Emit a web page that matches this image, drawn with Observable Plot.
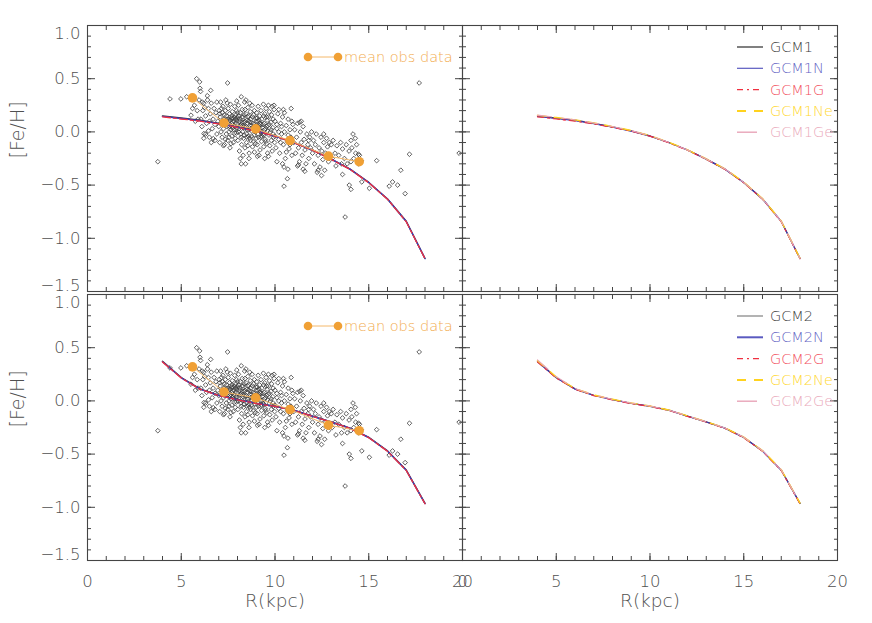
<!DOCTYPE html>
<html><head><meta charset="utf-8">
<script src="https://cdn.jsdelivr.net/npm/d3@7"></script>
<script src="https://cdn.jsdelivr.net/npm/@observablehq/plot@0.6"></script>
<style>
body{margin:0;background:#fff}
#chart{position:relative;width:872px;height:623px;overflow:hidden}
#chart svg{position:absolute;left:0;top:0}
#chart svg text{font-family:"DejaVu Sans",sans-serif;font-weight:200}
</style></head><body><div id="chart"></div>
<script>
// ---------- data ----------
const radii = [4,5,6,7,8,9,10,11,12,13,14,15,16,17,18];

const gcm1   = [0.150,0.130,0.110,0.080,0.047,0.010,-0.038,-0.100,-0.170,-0.256,-0.350,-0.475,-0.630,-0.840,-1.190];
const gcm1N  = [0.146,0.126,0.106,0.078,0.045,0.008,-0.040,-0.100,-0.170,-0.256,-0.350,-0.476,-0.630,-0.842,-1.190];
const gcm1G  = [0.142,0.121,0.101,0.075,0.043,0.007,-0.040,-0.101,-0.172,-0.258,-0.352,-0.478,-0.632,-0.845,-1.192];
const gcm1Ne = [0.155,0.135,0.113,0.085,0.050,0.013,-0.035,-0.097,-0.168,-0.253,-0.347,-0.472,-0.627,-0.838,-1.188];
const gcm1Ge = [0.158,0.136,0.114,0.084,0.050,0.012,-0.036,-0.099,-0.170,-0.255,-0.349,-0.474,-0.629,-0.840,-1.190];

const gcm2   = [0.372,0.220,0.113,0.053,0.013,-0.022,-0.050,-0.087,-0.143,-0.197,-0.256,-0.343,-0.470,-0.650,-0.963];
const gcm2N  = [0.368,0.217,0.111,0.051,0.012,-0.023,-0.051,-0.088,-0.144,-0.198,-0.257,-0.344,-0.471,-0.652,-0.965];
const gcm2G  = [0.366,0.215,0.110,0.050,0.010,-0.025,-0.052,-0.089,-0.145,-0.199,-0.259,-0.346,-0.473,-0.654,-0.967];
const gcm2Ne = [0.378,0.225,0.116,0.056,0.016,-0.020,-0.048,-0.085,-0.141,-0.195,-0.254,-0.340,-0.467,-0.646,-0.960];
const gcm2Ge = [0.385,0.228,0.117,0.056,0.015,-0.020,-0.048,-0.086,-0.142,-0.196,-0.255,-0.341,-0.468,-0.648,-0.962];

const meanR  = [5.60,7.28,8.97,10.80,12.85,14.49];
const meanFe = [0.320,0.084,0.028,-0.081,-0.228,-0.280];

const obsStars = [
 [3.75,-0.28],[4.4,0.31],[4.98,0.31],[5.29,0.33],[5.52,0.157],[5.82,0.50],[5.98,0.47],[6.0,0.41],[6.03,0.38],
 [6.21,-0.016],[6.57,0.39],[6.39,0.34],[6.12,0.28],[6.25,0.23],[6.71,-0.063],[7.47,0.46],[8.2,0.33],[7.96,0.29],
 [8.2,-0.30],[8.43,-0.30],[8.61,-0.25],[9.06,-0.23],[9.65,-0.23],[9.95,0.25],[10.45,0.21],[10.86,0.22],[11.32,0.09],
 [10.48,-0.33],[10.69,-0.35],[10.66,-0.44],[10.48,-0.51],[11.25,-0.31],[11.59,-0.37],[12.48,-0.41],[12.3,-0.36],
 [13.6,-0.40],[13.74,-0.80],[13.96,-0.50],[14.05,-0.54],[14.16,-0.02],[14.28,-0.06],[14.05,-0.08],[14.45,-0.21],
 [14.63,-0.47],[15.03,-0.53],[15.42,-0.27],[16.09,-0.51],[16.27,-0.47],[16.54,-0.50],[16.71,-0.36],[16.94,-0.58],
 [17.17,-0.21],[17.69,0.46],[19.82,-0.20],
 [5.7,0.25],[5.85,0.2],[5.9,0.12],[5.95,0.3],[5.6,0.22],[5.75,0.1],
 [6.05,0.12],[6.1,0.05],[6.15,0.2],[6.2,0.27],[6.3,0.15],[6.3,-0.02],[6.35,0.08],[6.4,0.3],[6.45,0.22],[6.5,0.1],
 [6.5,-0.05],[6.55,0.17],[6.6,0.27],[6.65,0.03],[6.7,0.12],[6.75,0.22],[6.8,-0.08],[6.8,0.07],[6.85,0.18],[6.9,0.28],
 [6.9,-0.02],[6.95,0.1],[6.6,-0.1],[6.2,-0.06],[6.45,0.01],
 [7.0,0.05],[7.02,0.2],[7.05,-0.1],[7.08,0.14],[7.1,0.28],[7.12,0.0],[7.15,0.09],[7.18,-0.05],[7.2,0.18],[7.22,0.24],
 [7.25,0.03],[7.28,0.12],[7.3,-0.12],[7.32,0.07],[7.35,0.2],[7.38,0.3],[7.4,-0.02],[7.42,0.15],[7.45,0.05],[7.48,-0.08],
 [7.5,0.22],[7.52,0.1],[7.55,0.0],[7.58,0.17],[7.6,-0.15],[7.62,0.26],[7.65,0.06],[7.68,0.13],[7.7,-0.04],[7.72,0.19],
 [7.75,0.09],[7.78,-0.1],[7.8,0.02],[7.82,0.14],[7.85,0.24],[7.88,-0.06],[7.9,0.08],[7.92,0.16],[7.95,-0.01],[7.98,0.11],
 [7.15,0.22],[7.35,-0.07],[7.55,0.12],[7.75,0.04],[7.95,0.2],[7.05,0.17],[7.25,-0.13],[7.45,0.27],[7.65,-0.11],[7.85,0.05],
 [8.0,0.13],[8.02,-0.08],[8.05,0.25],[8.08,0.03],[8.1,-0.18],[8.12,0.1],[8.15,0.18],[8.18,-0.02],[8.2,0.07],[8.22,-0.12],
 [8.25,0.21],[8.28,0.0],[8.3,0.14],[8.32,-0.06],[8.35,0.09],[8.38,0.28],[8.4,-0.15],[8.42,0.04],[8.45,0.17],[8.48,-0.1],
 [8.5,0.11],[8.52,0.02],[8.55,0.23],[8.58,-0.04],[8.6,0.15],[8.62,-0.2],[8.65,0.06],[8.68,0.19],[8.7,-0.08],[8.72,0.12],
 [8.75,0.01],[8.78,0.25],[8.8,-0.14],[8.82,0.08],[8.85,0.16],[8.88,-0.03],[8.9,0.2],[8.92,0.05],[8.95,-0.11],[8.98,0.13],
 [8.1,0.05],[8.3,-0.22],[8.5,-0.05],[8.7,0.03],[8.9,-0.19],[8.15,-0.25],[8.45,0.3],[8.65,0.27],[8.35,0.16],[8.55,-0.13],
 [9.0,0.02],[9.02,0.18],[9.05,-0.12],[9.08,0.1],[9.1,0.24],[9.12,-0.05],[9.15,0.06],[9.18,0.15],[9.2,-0.17],[9.22,0.0],
 [9.25,0.2],[9.28,-0.09],[9.3,0.12],[9.32,0.04],[9.35,-0.02],[9.38,0.26],[9.4,-0.14],[9.42,0.08],[9.45,0.17],[9.48,-0.07],
 [9.5,0.03],[9.52,0.22],[9.55,-0.11],[9.58,0.11],[9.6,-0.2],[9.62,0.06],[9.65,0.14],[9.68,-0.03],[9.7,0.19],[9.72,-0.13],
 [9.75,0.0],[9.78,0.09],[9.8,-0.08],[9.82,0.16],[9.85,-0.18],[9.88,0.04],[9.9,0.12],[9.92,-0.05],[9.95,0.21],[9.98,-0.1],
 [9.15,-0.22],[9.45,-0.25],[9.65,0.25],[9.85,0.24],[9.25,0.07],
 [10.0,0.1],[10.05,-0.15],[10.1,0.03],[10.15,0.17],[10.2,-0.07],[10.25,-0.2],[10.3,0.08],[10.35,-0.02],[10.4,0.14],[10.45,-0.12],
 [10.5,0.0],[10.55,-0.25],[10.6,0.06],[10.65,-0.09],[10.7,0.12],[10.75,-0.16],[10.8,0.02],[10.85,-0.05],[10.9,-0.22],[10.95,0.07],
 [10.1,-0.28],[10.3,-0.1],[10.5,0.18],[10.7,-0.03],[10.9,0.1],[10.2,0.21],[10.4,-0.3],[10.6,-0.19],[10.8,-0.12],[10.35,0.05],
 [11.0,-0.1],[11.05,0.02],[11.1,-0.2],[11.15,-0.05],[11.2,0.08],[11.25,-0.15],[11.3,-0.28],[11.35,0.0],[11.4,-0.1],[11.45,-0.22],
 [11.5,0.05],[11.55,-0.07],[11.6,-0.17],[11.65,-0.3],[11.7,-0.02],[11.75,-0.12],[11.8,-0.25],[11.85,-0.05],[11.9,-0.15],[11.95,0.0],
 [11.2,-0.32],[11.5,-0.35],[11.8,-0.08],[11.4,0.1],
 [12.0,-0.2],[12.05,-0.08],[12.1,-0.3],[12.15,-0.12],[12.2,-0.02],[12.3,-0.22],[12.35,-0.15],[12.4,-0.33],[12.45,-0.05],[12.5,-0.18],
 [12.55,-0.26],[12.6,-0.1],[12.65,-0.36],[12.7,-0.2],[12.75,-0.06],[12.8,-0.14],[12.85,-0.28],[12.9,-0.1],[12.95,-0.22],[12.25,-0.38],[12.6,-0.02],
 [13.0,-0.12],[13.05,-0.25],[13.1,-0.08],[13.2,-0.2],[13.25,-0.32],[13.3,-0.13],[13.4,-0.22],[13.5,-0.1],[13.55,-0.3],[13.6,-0.16],
 [13.7,-0.25],[13.8,-0.12],[13.85,-0.3],[13.95,-0.18],
 [14.05,-0.28],[14.1,-0.15],[14.2,-0.25],[14.35,-0.12],[14.45,-0.3],[14.5,-0.22],[14.6,-0.27],[14.3,-0.2],
 // denser core
 [7.6,0.05],[7.65,0.02],[7.7,0.08],[7.75,0.13],[7.8,0.06],[7.85,-0.01],[7.9,0.12],[7.95,0.04],[8.0,0.07],[8.05,0.0],
 [8.1,0.12],[8.15,0.06],[8.2,-0.05],[8.25,0.09],[8.3,0.04],[8.35,-0.03],[8.4,0.1],[8.45,0.05],[8.5,-0.02],[8.55,0.08],
 [8.6,0.02],[8.65,-0.06],[8.7,0.09],[8.75,-0.04],[8.8,0.04],[8.85,-0.09],[8.9,0.07],[8.95,0.0],[9.0,-0.06],[9.05,0.05],
 [9.1,-0.02],[9.15,0.11],[9.2,0.03],[9.25,-0.05],[9.3,0.0],[9.35,0.07],[9.4,-0.03],[9.45,0.02],[9.5,-0.09],[9.55,0.05],
 [7.3,0.16],[7.4,0.1],[7.5,0.06],[7.6,0.11],[7.7,0.15],[8.0,0.18],[8.25,0.14],[8.4,0.21],[8.6,0.1],[8.8,0.14],
 [9.0,0.1],[9.2,0.08],[9.4,0.15],[9.6,0.01],[9.7,0.07],[9.8,0.02],[9.9,-0.02],[10.0,-0.04],[10.1,0.07],[10.2,0.0],
 [7.45,0.12],[7.55,-0.05],[7.8,0.1],[8.05,0.15],[8.3,0.06],[8.55,0.14],[8.75,0.06],[9.05,0.13],[9.3,-0.04],[9.55,0.14]
];

const xMajorTicks = [0,5,10,15,20];
const yMajorTicks = [-1.5,-1.0,-0.5,0.0,0.5,1.0];
const legend1 = ["GCM1","GCM1N","GCM1G","GCM1Ne","GCM1Ge"];
const legend2 = ["GCM2","GCM2N","GCM2G","GCM2Ne","GCM2Ge"];
const obsLabel = "mean obs data";
const xTitle = "R(kpc)";
const yTitle = "[Fe/H]";

// ---------- styles ----------
const colBlack = "#3a3a3a", colBlue = "#3c3cb4", colRed = "#f03040", colYellow = "#ffd21e", colPink = "#e8a4b8";
const colOrange = "#f0a035", colOrangeLine = "#f4b86a";
const axisCol = "#444", textCol = "#505050";
const W = 872, H = 623;
const X = {L:[87,462], R:[462,837]};
const Y = {T:[25,291], B:[294,560]};

const series = (vals) => radii.map((r,i) => ({r, v: vals[i]}));
const meanData = meanR.map((r,i) => ({r, v: meanFe[i]}));
const starData = obsStars.map(([r,v]) => ({r, v}));

function frameAxes(showY, showX) {
  const xMinor = d3.range(0, 21, 1);
  const yMinor = d3.range(-15, 11, 1).map(d => d / 10);
  const tk = {stroke: axisCol, strokeWidth: 1, label: null, tickFormat: () => ""};
  const m = [Plot.frame({stroke: axisCol, strokeWidth: 1.1})];
  for (const anchor of ["top","bottom"]) {
    m.push(Plot.axisX(xMajorTicks, {anchor, tickSize: -7, ...tk}));
    m.push(Plot.axisX(xMinor, {anchor, tickSize: -4, ...tk}));
  }
  for (const anchor of ["left","right"]) {
    m.push(Plot.axisY(yMajorTicks, {anchor, tickSize: -8, ...tk}));
    m.push(Plot.axisY(yMinor, {anchor, tickSize: -4, ...tk}));
  }
  const lab = {anchor: "left", tickSize: 0, tickPadding: 7, label: null, fill: textCol, fontSize: 16.5, tickFormat: d3.format(".1f")};
  if (showY) {
    m.push(Plot.axisY(yMajorTicks.filter(d => d > -1.5 && d < 1), lab));
    m.push(Plot.axisY([1.0], {...lab, dy: 8}));
    m.push(Plot.axisY([-1.5], {...lab, dy: -6}));
    m.push(Plot.text([yTitle], {frameAnchor: "left", dx: -70, rotate: -90, fill: textCol, fontSize: 19}));
  }
  if (showX) {
    m.push(Plot.axisX(xMajorTicks, {anchor: "bottom", tickSize: 0, tickPadding: 15, label: null, fill: textCol, fontSize: 16.5}));
    m.push(Plot.text([xTitle], {frameAnchor: "bottom", dy: 46, fill: textCol, fontSize: 18.5}));
  }
  return m;
}

function panel(xr, yr, showY, showX, marks) {
  return Plot.plot({
    width: W, height: H,
    marginLeft: xr[0], marginRight: W - xr[1], marginTop: yr[0], marginBottom: H - yr[1],
    x: {domain: [0, 20], axis: null},
    y: {domain: [-1.5, 1.0], axis: null},
    style: {background: "transparent", overflow: "visible"},
    marks: [...marks, ...frameAxes(showY, showX)]
  });
}

function obsMarks(models) {
  return [
    Plot.dot(starData, {x: "r", y: "v", symbol: "diamond2", r: 2.1, stroke: "#3a3a3a", strokeWidth: 0.8, fill: "none"}),
    Plot.line(series(models[0]), {x: "r", y: "v", stroke: colBlack, strokeWidth: 1.4}),
    Plot.line(series(models[1]), {x: "r", y: "v", stroke: colBlue, strokeWidth: 1.4}),
    Plot.line(series(models[2]), {x: "r", y: "v", stroke: colRed, strokeWidth: 1.3, strokeDasharray: "8,3,3,3"}),
    Plot.line(meanData, {x: "r", y: "v", stroke: colOrangeLine, strokeWidth: 1}),
    Plot.dot(meanData, {x: "r", y: "v", r: 4.8, fill: colOrange, stroke: "none"})
  ];
}

function modelMarks(models) {
  return [
    Plot.line(series(models[0]), {x: "r", y: "v", stroke: colBlack, strokeWidth: 1.2}),
    Plot.line(series(models[1]), {x: "r", y: "v", stroke: colBlue, strokeWidth: 1.2}),
    Plot.line(series(models[2]), {x: "r", y: "v", stroke: colRed, strokeWidth: 1.2, strokeDasharray: "6,4,2,4"}),
    Plot.line(series(models[3]), {x: "r", y: "v", stroke: colYellow, strokeWidth: 1.4, strokeDasharray: "9,8"}),
    Plot.line(series(models[4]), {x: "r", y: "v", stroke: colPink, strokeWidth: 1.1, strokeDasharray: "14,10"})
  ];
}

const set1 = [gcm1, gcm1N, gcm1G, gcm1Ne, gcm1Ge];
const set2 = [gcm2, gcm2N, gcm2G, gcm2Ne, gcm2Ge];

const chart = document.getElementById("chart");
chart.append(panel(X.L, Y.T, true, false, obsMarks(set1)));
chart.append(panel(X.R, Y.T, false, false, modelMarks(set1)));
chart.append(panel(X.L, Y.B, true, true, obsMarks(set2)));
chart.append(panel(X.R, Y.B, false, true, modelMarks(set2)));

// ---------- legends (overlay) ----------
const svg = d3.select(chart).append("svg").attr("width", W).attr("height", H);
const legStyles = [
  {c: "#808080", w: 2, dash: null, tc: "#404040", len: 26},
  {c: "#5a5ac0", w: 1.2, dash: null, tc: "#6464c4", len: 26},
  {c: colRed, w: 1.4, dash: "6,4,2,4", tc: "#f25060", len: 26},
  {c: colYellow, w: 2, dash: "9,8", tc: "#ffd830", len: 26},
  {c: colPink, w: 1.4, dash: null, tc: "#eaaabb", len: 20}
];
function drawLegend(names, y0, thickBlue) {
  names.forEach((n, i) => {
    const s = legStyles[i], y = y0 + i * 21.3;
    svg.append("line").attr("x1", 737).attr("x2", 737 + s.len).attr("y1", y).attr("y2", y)
      .attr("stroke", s.c).attr("stroke-width", (i === 1 && thickBlue) ? 2 : (i === 0 && thickBlue ? 1.2 : s.w))
      .attr("stroke-dasharray", s.dash);
    svg.append("text").attr("x", 770).attr("y", y + 5).attr("fill", s.tc).attr("font-size", 14.5).text(n);
  });
}
drawLegend(legend1, 47, false);
drawLegend(legend2, 316, true);
function drawObsLegend(y) {
  svg.append("line").attr("x1", 308).attr("x2", 338).attr("y1", y).attr("y2", y).attr("stroke", colOrangeLine).attr("stroke-width", 1);
  [308, 338].forEach(x => svg.append("circle").attr("cx", x).attr("cy", y).attr("r", 4.3).attr("fill", colOrange));
  svg.append("text").attr("x", 344).attr("y", y + 5).attr("fill", "#f2ac50").attr("font-size", 14.5).text(obsLabel);
}
drawObsLegend(57);
drawObsLegend(326);
</script></body></html>
